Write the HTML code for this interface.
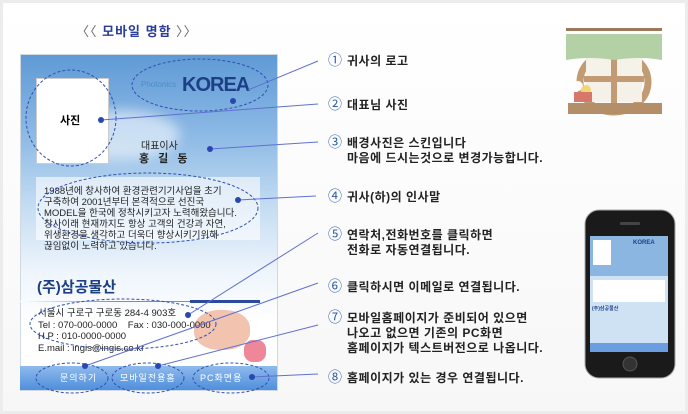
<!DOCTYPE html>
<html><head><meta charset="utf-8"><style>
body{margin:0;width:688px;height:414px;overflow:hidden;background:#fff;font-family:"Liberation Sans","Noto Sans CJK KR",sans-serif}
#wrap{position:absolute;left:0;top:0;width:682px;height:408px;border:3px solid #ececec;background:linear-gradient(#fff,#f7f7f8)}
.a{position:absolute;white-space:nowrap}
.lab{position:absolute;left:328px;font-size:12px;font-weight:bold;color:#222;line-height:15px;letter-spacing:0.5px}
.lab b{color:#2a5ca8;font-weight:normal;font-size:14px;display:inline-block;width:19px}
.lab span{margin-left:19px}
.sm{font-size:9.5px;color:#222;line-height:12px}
</style></head><body>
<div id="wrap"></div>
<div class="a" style="left:76px;top:21px;font-size:13px;color:#2b3f9a;font-weight:bold;letter-spacing:1px"><span style="color:#666;font-weight:normal">〈〈</span> 모바일 명함 <span style="color:#666;font-weight:normal">〉〉</span></div>
<div class="a" style="left:20px;top:54px;width:256px;height:335px;background:linear-gradient(#5f9ad6 0%,#8fbbe6 25%,#c4dcf2 45%,#eef5fc 65%,#fff 80%);border:1px solid #d0d8e0"></div>
<div class="a" style="left:60px;top:110px;width:120px;height:50px;border-radius:50%;background:rgba(255,255,255,.55);filter:blur(6px)"></div>
<div class="a" style="left:36px;top:78px;width:71px;height:84px;background:#fff;border:1px solid #ccc"></div>
<div class="a" style="left:60px;top:112px;font-size:11px;font-weight:bold">사진</div>
<div class="a" style="left:141px;top:80px;font-size:8px;color:#4a8fc0">Photonics</div>
<div class="a" style="left:182px;top:74px;font-size:20px;font-weight:bold;color:#1d3f86;letter-spacing:-1px">KOREA</div>
<div class="a" style="left:141px;top:137px;font-size:10px;color:#222">대표이사</div>
<div class="a" style="left:139px;top:150px;font-size:11px;font-weight:bold;color:#222;letter-spacing:3px">홍 길 동</div>
<div class="a" style="left:36px;top:177px;width:224px;height:63px;background:rgba(255,255,255,.6)"></div>
<div class="a sm" style="left:44px;top:186px;line-height:11px;font-size:9.5px">1988년에 창사하여 환경관련기기사업을 초기<br>구축하여 2001년부터 본격적으로 선진국<br>MODEL을 한국에 정착시키고자 노력해왔습니다.<br>창사이래 현재까지도 항상 고객의 건강과 자연,<br>위생환경을 생각하고 더욱더 향상시키기위해<br>끊임없이 노력하고 있습니다.</div>
<div class="a" style="left:37px;top:276px;font-size:15px;font-weight:bold;color:#1d3f86">(주)삼공물산</div>
<div class="a" style="left:20px;top:301px;width:240px;height:1px;background:linear-gradient(90deg,#fff,#b070d0 40%,#b070d0)"></div>
<div class="a" style="left:190px;top:300px;width:70px;height:3px;background:#2b4a9a"></div>
<div class="a" style="left:194px;top:310px;width:56px;height:40px;border-radius:45%;background:#f2c4b0"></div>
<div class="a" style="left:244px;top:340px;width:22px;height:22px;border-radius:40%;background:#ee8898"></div>
<div class="a sm" style="left:38px;top:308px;line-height:11.5px">서울시 구로구 구로동 284-4 903호<br>Tel : 070-000-0000 &nbsp;&nbsp; Fax : 030-000-0000<br>H.P : 010-0000-0000<br>E.mail : ingis@ingis.co.kr</div>
<div class="a" style="left:20px;top:366px;width:257px;height:24px;background:linear-gradient(#8fbaec,#4f8fdc)"></div>
<div class="a" style="left:60px;top:371px;font-size:9px;color:#fff;letter-spacing:1px">문의하기</div>
<div class="a" style="left:120px;top:371px;font-size:9px;color:#fff;letter-spacing:1px">모바일전용홈</div>
<div class="a" style="left:200px;top:371px;font-size:9px;color:#fff;letter-spacing:1px">PC화면용</div>
<svg class="a" style="left:0;top:0" width="688" height="414">
<g fill="none" stroke="#3050b0" stroke-width="1" stroke-dasharray="3,2">
<ellipse cx="200" cy="85" rx="68" ry="26"/>
<ellipse cx="71" cy="118" rx="45" ry="48"/>
<ellipse cx="148" cy="208" rx="110" ry="35"/>
<ellipse cx="123" cy="324" rx="93" ry="25"/>
<ellipse cx="72" cy="378" rx="36" ry="15"/>
<ellipse cx="148" cy="378" rx="36" ry="15"/>
<ellipse cx="231" cy="378" rx="38" ry="15"/>
</g>
<g stroke="#6070d0" stroke-width="1">
<line x1="248" y1="90" x2="318" y2="61"/>
<line x1="101" y1="120" x2="318" y2="104"/>
<line x1="210" y1="149" x2="318" y2="142"/>
<line x1="238" y1="200" x2="316" y2="196"/>
<line x1="188" y1="315" x2="318" y2="233"/>
<line x1="85" y1="366" x2="318" y2="283"/>
<line x1="158" y1="366" x2="318" y2="325"/>
<line x1="252" y1="377" x2="318" y2="374"/>
</g>
<g fill="#2848b0">
<circle cx="233" cy="101" r="3"/><circle cx="101" cy="120" r="3"/><circle cx="210" cy="149" r="3"/><circle cx="238" cy="200" r="3"/><circle cx="188" cy="315" r="3"/><circle cx="85" cy="366" r="3"/><circle cx="158" cy="366" r="3"/><circle cx="252" cy="377" r="3"/>
</g>
<g opacity="0.85">
<ellipse cx="614" cy="82" rx="34" ry="30" fill="none" stroke="#b88a5c" stroke-width="7"/>
<rect x="586" y="58" width="56" height="44" fill="#f4f0e6"/>
<rect x="611" y="54" width="6" height="50" fill="#b88a5c"/>
<rect x="584" y="76" width="60" height="6" fill="#b88a5c"/>
<path d="M566 34 H662 V60 Q640 56 614 60 Q590 56 566 60 Z" fill="#a8c896"/>
<rect x="566" y="28" width="96" height="3" fill="#8a6040"/>
<rect x="568" y="103" width="94" height="11" fill="#a87a50"/>
<circle cx="578" cy="86" r="5" fill="#fff"/><circle cx="586" cy="90" r="5" fill="#f0d060"/>
<rect x="574" y="92" width="18" height="10" fill="#d06050"/>
</g>
<rect x="585" y="210" width="90" height="168" rx="14" fill="#1a1a1a" stroke="#aaa"/>
<rect x="590" y="236" width="78" height="116" fill="#cfe2f4"/>
<rect x="590" y="236" width="78" height="40" fill="#8cb6e2"/>
<rect x="593" y="240" width="18" height="25" fill="#fff"/>
<rect x="593" y="280" width="72" height="22" fill="#fff"/>
<rect x="590" y="343" width="78" height="9" fill="#6a9ee0"/>
<circle cx="630" cy="364" r="7" fill="#333" stroke="#555"/>
<rect x="620" y="222" width="20" height="3" rx="1" fill="#444"/>
</svg>
<div class="a" style="left:633px;top:240px;font-size:6px;font-weight:bold;color:#1d3f86">KOREA</div>
<div class="a" style="left:592px;top:305px;font-size:5px;font-weight:bold;color:#1d3f86">(주)삼공물산</div>
<div class="lab" style="top:53px"><b>①</b>귀사의 로고</div>
<div class="lab" style="top:97px"><b>②</b>대표님 사진</div>
<div class="lab" style="top:135px"><b>③</b>배경사진은 스킨입니다<br><span>마음에 드시는것으로 변경가능합니다.</span></div>
<div class="lab" style="top:189px"><b>④</b>귀사(하)의 인사말</div>
<div class="lab" style="top:227px"><b>⑤</b>연락처,전화번호를 클릭하면<br><span>전화로 자동연결됩니다.</span></div>
<div class="lab" style="top:279px"><b>⑥</b>클릭하시면 이메일로 연결됩니다.</div>
<div class="lab" style="top:310px"><b>⑦</b>모바일홈페이지가 준비되어 있으면<br><span>나오고 없으면 기존의 PC화면</span><br><span>홈페이지가 텍스트버전으로 나옵니다.</span></div>
<div class="lab" style="top:370px"><b>⑧</b>홈페이지가 있는 경우 연결됩니다.</div>
</body></html>
